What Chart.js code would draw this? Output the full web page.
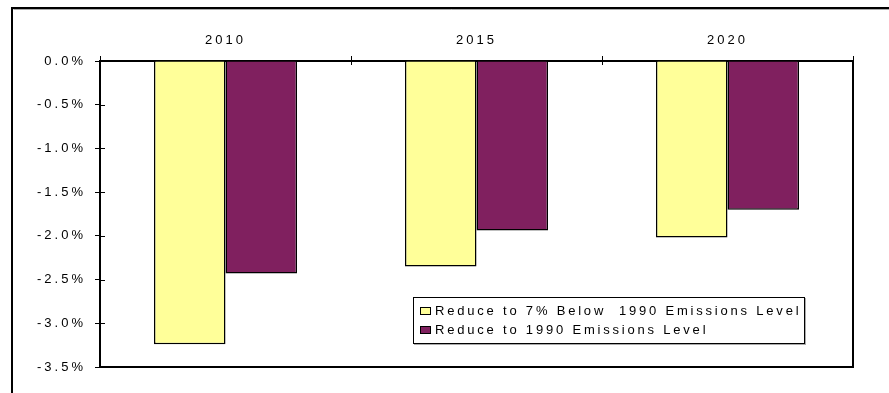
<!DOCTYPE html>
<html>
<head>
<meta charset="utf-8">
<script src="https://cdn.jsdelivr.net/npm/chart.js@4"></script>
<style>
  html, body { margin: 0; padding: 0; background: #fff; }
  #wrap { position: relative; width: 889px; height: 393px; overflow: hidden; }
  #c { position: absolute; left: 0; top: 0; }
  #legend {
    position: absolute; left: 413px; top: 297px; width: 392px; height: 47px;
    border: 1px solid #000; box-shadow: 1px 1px 0 #aaa; background: #fff;
    font-family: "Liberation Sans", Arial, sans-serif; font-size: 13px; letter-spacing: 2.8px;
    color: #000; box-sizing: border-box; padding-top: 3px;
  }
  .item { display: flex; align-items: center; height: 19px; padding-left: 6px; white-space: pre; }
  .sw { width: 11px; height: 8px; border: 1.5px solid #000; margin-right: 4px; box-sizing: border-box; flex: none; }
</style>
</head>
<body>
<div id="wrap">
  <canvas id="c" width="889" height="393"></canvas>
  <div id="legend"></div>
</div>
<script>
const categories = ["2010", "2015", "2020"];
const seriesNames = ["Reduce to 7% Below  1990 Emissions Level", "Reduce to 1990 Emissions Level"];
const below7Values = [-3.24, -2.35, -2.02];
const level1990Values = [-2.43, -1.94, -1.70];
const yTickMin = -3.5, yTickMax = 0, yTickStep = 0.5;

const FONT = '"Liberation Sans", Arial, sans-serif';
const SPACING = '3px';

const spacingPlugin = {
  id: 'spacing',
  beforeLayout(chart) { chart.ctx.letterSpacing = SPACING; },
  beforeDraw(chart) {
    const ctx = chart.ctx;
    ctx.letterSpacing = SPACING;
    // outer frame
    ctx.save();
    ctx.strokeStyle = '#000';
    ctx.lineWidth = 2;
    ctx.beginPath();
    ctx.moveTo(12, chart.height + 5);
    ctx.lineTo(12, 8);
    ctx.lineTo(chart.width + 5, 8);
    ctx.stroke();
    ctx.strokeStyle = '#aaa';
    ctx.lineWidth = 1;
    ctx.beginPath();
    ctx.moveTo(13.5, 9.5);
    ctx.lineTo(chart.width + 5, 9.5);
    ctx.stroke();
    ctx.restore();
  },
  afterDraw(chart) {
    const ctx = chart.ctx;
    const a = chart.chartArea;
    const x = chart.scales.x, y = chart.scales.y;
    ctx.save();
    ctx.strokeStyle = '#000';
    ctx.lineWidth = 2;
    ctx.beginPath();
    ctx.moveTo(a.left, a.bottom);
    ctx.lineTo(a.right, a.bottom);
    ctx.lineTo(a.right, a.top);
    ctx.stroke();
    ctx.lineWidth = 1;
    ctx.beginPath();
    y.ticks.forEach(t => {
      const py = Math.round(y.getPixelForValue(t.value)) + 0.5;
      ctx.moveTo(a.left, py); ctx.lineTo(a.left + 5, py);
    });
    for (let i = 0; i <= categories.length; i++) {
      const px = Math.round(x.getPixelForValue(i - 0.5)) + 0.5;
      ctx.moveTo(px, a.top); ctx.lineTo(px, a.top + 4);
    }
    ctx.stroke();
    ctx.restore();
  }
};

const chart = new Chart(document.getElementById('c'), {
  type: 'bar',
  data: {
    labels: categories,
    datasets: [
      { label: seriesNames[0], data: below7Values, backgroundColor: '#FFFF99', borderColor: '#000', borderWidth: 1.5 },
      { label: seriesNames[1], data: level1990Values, backgroundColor: '#80205F', borderColor: '#000', borderWidth: 1.5 }
    ]
  },
  options: {
    responsive: false,
    animation: false,
    devicePixelRatio: 1,
    categoryPercentage: 0.57,
    barPercentage: 1,
    layout: { padding: { left: 0, top: 0, right: 36, bottom: 26 } },
    plugins: { legend: { display: false }, tooltip: { enabled: false } },
    scales: {
      x: {
        position: 'top',
        grid: { display: true, drawOnChartArea: false, drawTicks: true, tickLength: 5, color: '#000', offset: true },
        border: { display: true, color: '#000', width: 2 },
        ticks: { color: '#000', font: { family: FONT, size: 13 }, padding: 8 },
        afterFit(s) { s.height = 61; }
      },
      y: {
        min: yTickMin, max: yTickMax,
        grid: { display: true, drawOnChartArea: false, drawTicks: true, tickLength: 5, color: '#000' },
        border: { display: true, color: '#000', width: 2 },
        ticks: {
          stepSize: yTickStep, color: '#000', font: { family: FONT, size: 13 }, padding: 9,
          callback: v => v.toFixed(1) + '%'
        },
        afterFit(s) { s.width = 100; }
      }
    }
  },
  plugins: [spacingPlugin]
});

const legend = document.getElementById('legend');
chart.data.datasets.forEach(ds => {
  const item = document.createElement('div');
  item.className = 'item';
  const sw = document.createElement('span');
  sw.className = 'sw';
  sw.style.background = ds.backgroundColor;
  const tx = document.createElement('span');
  tx.textContent = ds.label;
  item.appendChild(sw); item.appendChild(tx);
  legend.appendChild(item);
});
</script>
</body>
</html>
